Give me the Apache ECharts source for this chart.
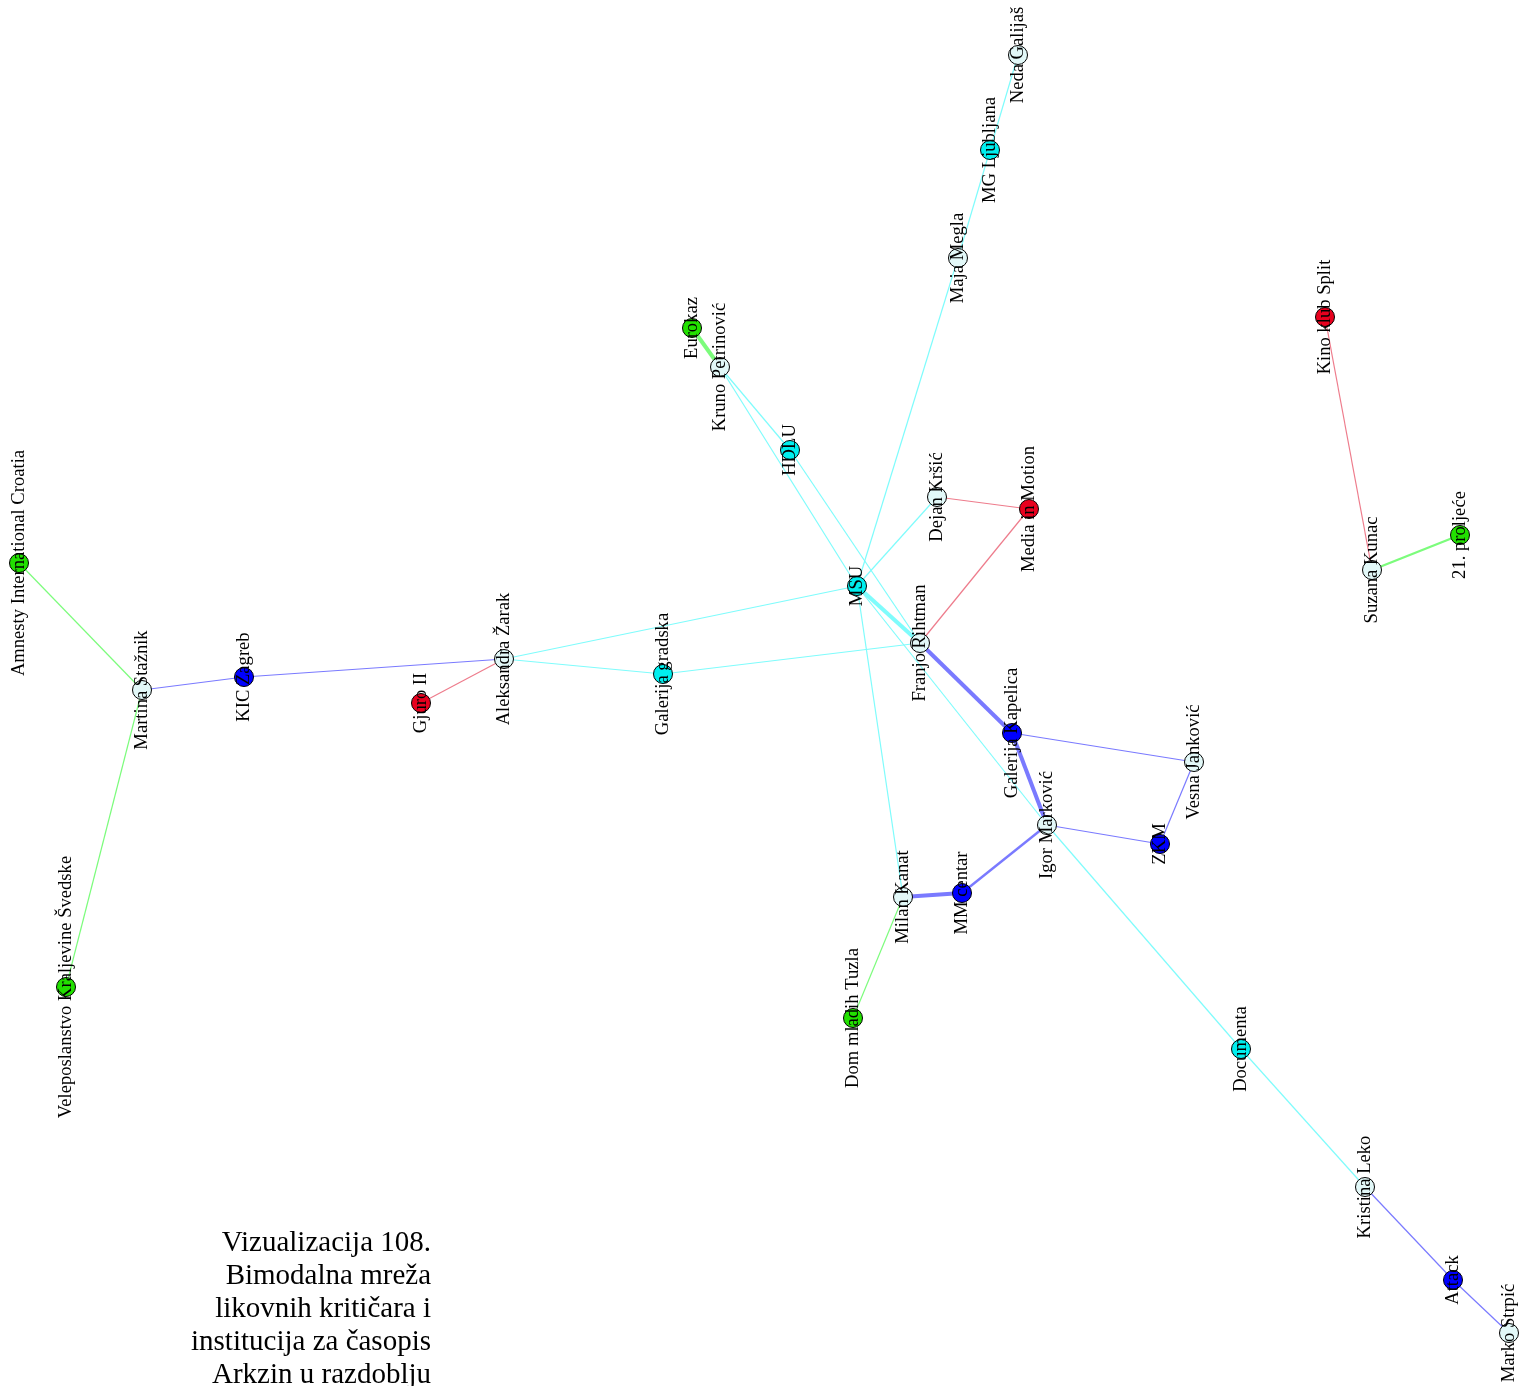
<!DOCTYPE html>
<html>
<head>
<meta charset="utf-8">
<script src="https://cdn.jsdelivr.net/npm/echarts@6/dist/echarts.min.js"></script>
<style>
html,body{margin:0;padding:0;background:#fff;}
#chart{width:1522px;height:1386px;}
</style>
</head>
<body>
<div id="chart"></div>
<script>
// Nodes of the bimodal network (critics = person, institutions by colour group)
const nodeNames = [
  "Neda Galijaš","MG Ljubljana","Maja Megla","Eurokaz","Kruno Petrinović","HDLU",
  "Kino klub Split","Dejan Kršić","Media in Motion","21. proljeće","Suzana Kunac",
  "Amnesty International Croatia","MSU","Franjo Rihtman","Martina Stažnik","KIC Zagreb",
  "Gjuro II","Aleksandra Žarak","Galerija gradska","Galerija Kapelica","Vesna Janković",
  "Igor Marković","ZKM","Milan Kanat","MM centar","Dom mladih Tuzla",
  "Veleposlanstvo Kraljevine Švedske","Documenta","Kristina Leko","Attack","Marko Strpić"
];
const nodeX = [1018,990,958,692,720,790,1325,937,1029,1460,1372,19,857,920,142,244,421,504,663,1012,1194,1047,1160,903,962,853,66,1241,1365,1453,1509];
const nodeY = [55,150,258,328,367,450,317,497,509,535,570,563,586,643,690,677,703,659,674,733,762,825,844,897,893,1018,987,1049,1187,1280,1333];
const nodeKind = ["person","cyan","person","green","person","cyan","red","person","red","green","person",
  "green","cyan","person","person","blue","red","person","cyan","blue","person",
  "person","blue","person","blue","green","green","cyan","person","blue","person"];

// Edges (ties between critics and institutions) and tie strength
const edgeSource = ["Neda Galijaš","MG Ljubljana","Maja Megla","Kruno Petrinović","Kruno Petrinović","HDLU",
  "Dejan Kršić","MSU","MSU","MSU","MSU","Aleksandra Žarak","Galerija gradska","Igor Marković","Documenta",
  "Franjo Rihtman","Galerija Kapelica","Galerija Kapelica","Vesna Janković","ZKM","Igor Marković","MM centar",
  "Kristina Leko","Attack","Martina Stažnik","KIC Zagreb",
  "Eurokaz","Milan Kanat","Amnesty International Croatia","Martina Stažnik","Suzana Kunac",
  "Gjuro II","Dejan Kršić","Franjo Rihtman","Kino klub Split"];
const edgeTarget = ["MG Ljubljana","Maja Megla","MSU","HDLU","MSU","Franjo Rihtman",
  "MSU","Aleksandra Žarak","Franjo Rihtman","Milan Kanat","Igor Marković","Galerija gradska","Franjo Rihtman","Documenta","Kristina Leko",
  "Galerija Kapelica","Igor Marković","Vesna Janković","ZKM","Igor Marković","MM centar","Milan Kanat",
  "Attack","Marko Strpić","KIC Zagreb","Aleksandra Žarak",
  "Kruno Petrinović","Dom mladih Tuzla","Martina Stažnik","Veleposlanstvo Kraljevine Švedske","21. proljeće",
  "Aleksandra Žarak","Media in Motion","Media in Motion","Suzana Kunac"];
const edgeWeight = [1,1,1,1,1,1, 1,1,3,1,1,1,1,1,1, 3,3,1,1,1,2,3, 1,1,1,1, 3,1,1,1,2, 1,1,1,1];

const titleLines = ["Vizualizacija 108.","Bimodalna mreža","likovnih kritičara i","institucija za časopis","Arkzin u razdoblju"];

const kindFill = {person:"#e2f8f8", cyan:"#00eeee", blue:"#0000ff", green:"#22e000", red:"#e8001e"};
const kindEdge = {cyan:"#7ffcfc", blue:"#7a7aff", green:"#7cfc7c", red:"#ee7c8c"};
const widthFor = {1:1.2, 2:2.4, 3:4};

const kindOf = {};
nodeNames.forEach((n,i)=>{kindOf[n]=nodeKind[i];});

const nodes = nodeNames.map((n,i)=>({
  name:n, x:nodeX[i], y:nodeY[i],
  itemStyle:{color:kindFill[nodeKind[i]], borderColor:"#000", borderWidth:1}
}));
const links = edgeSource.map((s,i)=>{
  const t = edgeTarget[i];
  const inst = kindOf[s]==="person" ? kindOf[t] : kindOf[s];
  return {source:s, target:t, lineStyle:{color:kindEdge[inst], width:widthFor[edgeWeight[i]], opacity:1}};
});

const minX = Math.min(...nodeX), maxX = Math.max(...nodeX);
const minY = Math.min(...nodeY), maxY = Math.max(...nodeY);

const chart = echarts.init(document.getElementById('chart'), null, {renderer:'canvas'});
chart.setOption({
  backgroundColor:"#ffffff",
  animation:false,
  series:[{
    type:"graph",
    layout:"none",
    left:minX, top:minY, width:maxX-minX, height:maxY-minY,
    symbol:"circle",
    symbolSize:19,
    roam:false,
    data:nodes,
    links:links,
    label:{show:true, position:"inside", rotate:90, color:"#000",
      fontFamily:"'Liberation Serif','Times New Roman',serif", fontSize:18.6},
    emphasis:{disabled:true},
    lineStyle:{curveness:0}
  }],
  graphic:[{
    type:"text", x:431, y:1227,
    style:{text:titleLines.join("\n"), textAlign:"right", textVerticalAlign:"top",
      font:"29px 'Liberation Serif'", lineHeight:33, fill:"#000"}
  }]
});
</script>
</body>
</html>
